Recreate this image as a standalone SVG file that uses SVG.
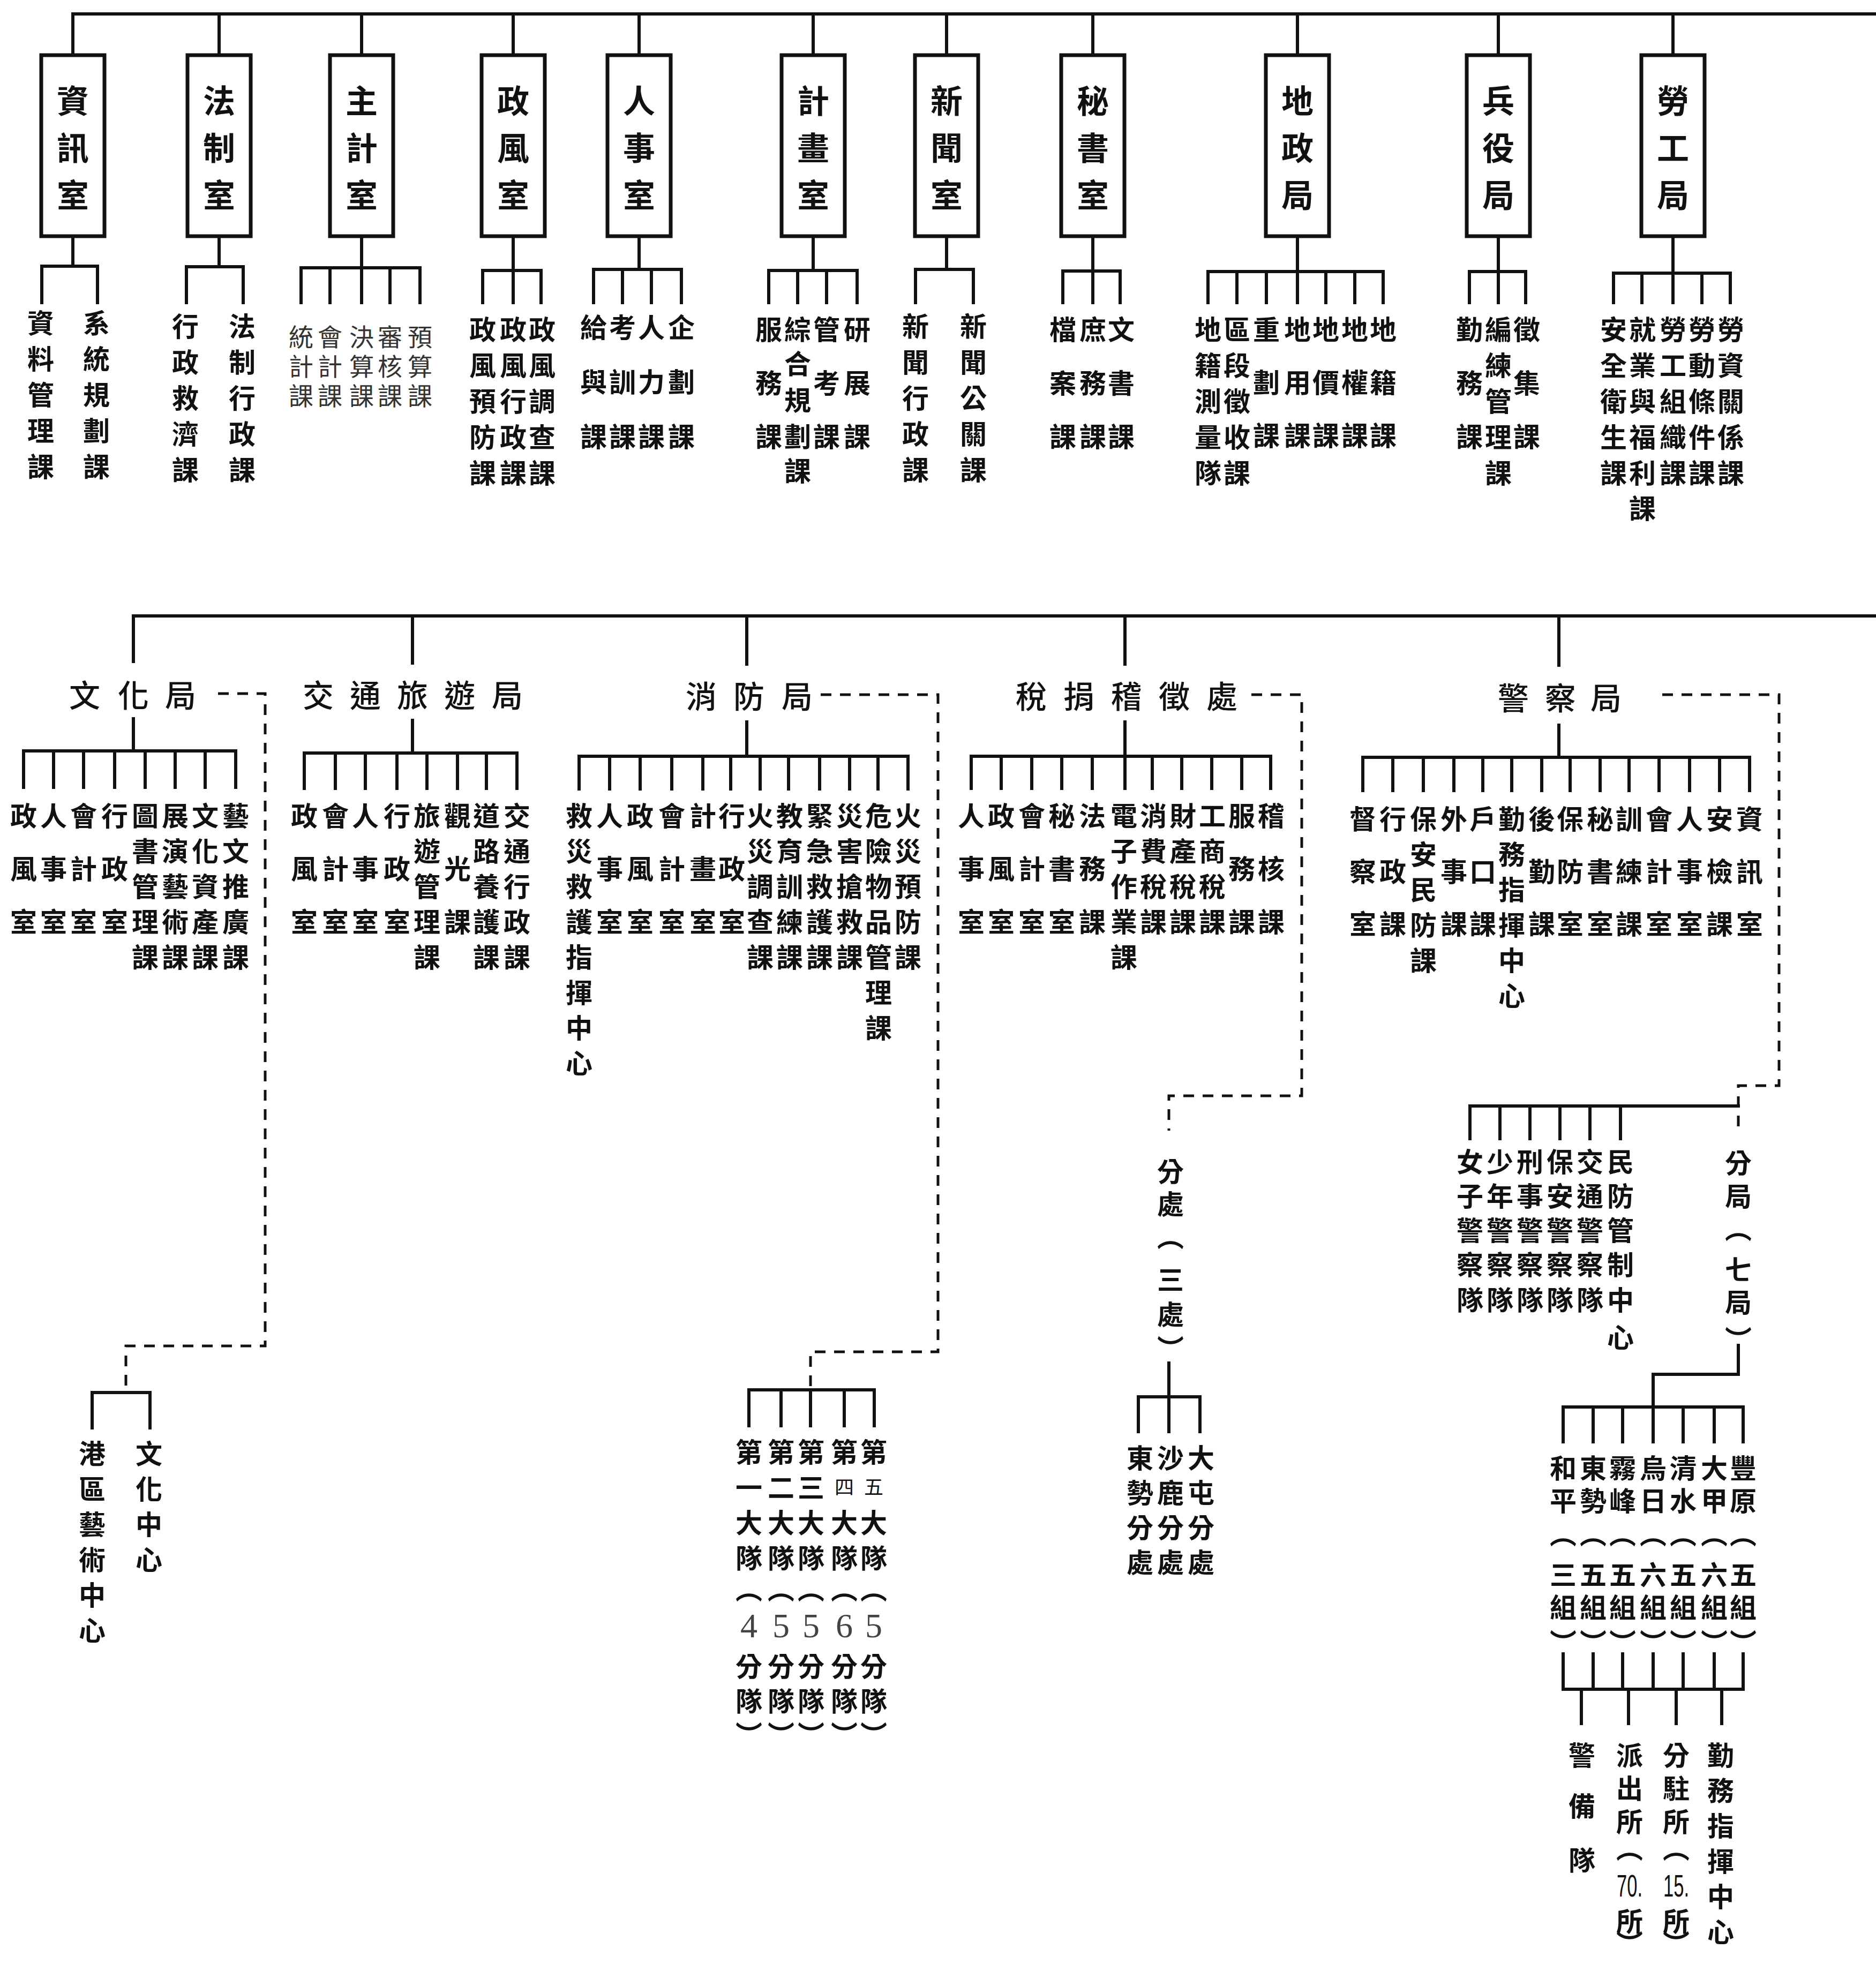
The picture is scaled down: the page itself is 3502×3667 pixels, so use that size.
<svg xmlns="http://www.w3.org/2000/svg" width="3502" height="3667" viewBox="0 0 3502 3667">
<style>
.ln{fill:none;stroke:#111;stroke-width:6;stroke-linecap:square}
.ds{fill:none;stroke:#111;stroke-width:5;stroke-dasharray:20 16}
.bx{fill:#fff;stroke:#111;stroke-width:7}
text{font-family:"Noto Sans CJK TC","Noto Sans CJK SC",sans-serif;text-anchor:middle;dominant-baseline:central;fill:#111}
.t{font-size:60px;font-weight:700}
.h{font-size:58px;font-weight:500}
.l{font-size:50px;font-weight:700}
.s{font-size:46px;font-weight:400;fill:#333}
.n{font-family:"Liberation Serif",serif;font-size:64px;font-weight:400;fill:#444}
.m{font-size:36px;font-weight:400}
.q{font-family:"Liberation Sans",sans-serif;font-size:58px;font-weight:400}
</style>
<rect width="3502" height="3667" fill="#fff"/>
<g id="connectors">
<path class="ln" d="M136 26H3502M249 1150H3502"/>
<path class="ln" d="M136 26V103M409 26V103M675 26V103M958 26V103M1193 26V103M1518 26V103M1767 26V103M2040 26V103M2422 26V103M2797 26V103M3123 26V103"/>
<path class="ln" d="M136 441V497M78 565V497H182V565"/>
<path class="ln" d="M409 441V498M348 565V498H454V565"/>
<path class="ln" d="M675 441V565M562 565V500H784V565M616 500V565M728 500V565"/>
<path class="ln" d="M958 441V565M901 565V505H1010V565"/>
<path class="ln" d="M1193 441V503M1108 565V503H1272V565M1162 503V565M1216 503V565"/>
<path class="ln" d="M1518 441V505M1435 565V505H1600V565M1489 505V565M1543 505V565"/>
<path class="ln" d="M1767 441V503M1709 565V503H1817V565"/>
<path class="ln" d="M2040 441V565M1984 565V506H2091V565"/>
<path class="ln" d="M2422 441V565M2255 565V507H2582V565M2309 507V565M2364 507V565M2475 507V565M2529 507V565"/>
<path class="ln" d="M2797 441V565M2743 565V507H2848V565"/>
<path class="ln" d="M3123 441V565M3012 565V510H3230V565M3065 510V565M3177 510V565"/>
<path class="ln" d="M249 1150V1235M770 1150V1238M1394 1150V1240M2100 1150V1240M2910 1150V1242"/>
<path class="ln" d="M249 1342V1402M44 1470V1402H440V1470M100 1402V1470M156 1402V1470M214 1402V1470M271 1402V1470M327 1402V1470M383 1402V1470"/>
<path class="ln" d="M770 1345V1406M568 1472V1406H965V1472M626 1406V1472M682 1406V1472M741 1406V1472M797 1406V1472M854 1406V1472M908 1406V1472"/>
<path class="ln" d="M1394 1348V1412M1081 1473V1412H1695V1473M1138 1412V1473M1195 1412V1473M1254 1412V1473M1312 1412V1473M1364 1412V1473M1419 1412V1473M1472 1412V1473M1530 1412V1473M1586 1412V1473M1639 1412V1473"/>
<path class="ln" d="M2100 1348V1472M1813 1472V1412H2372V1472M1869 1412V1472M1926 1412V1472M1982 1412V1472M2039 1412V1472M2151 1412V1472M2206 1412V1472M2262 1412V1472M2318 1412V1472"/>
<path class="ln" d="M2910 1354V1414M2544 1476V1414H3266V1476M2600 1414V1476M2657 1414V1476M2714 1414V1476M2768 1414V1476M2822 1414V1476M2878 1414V1476M2931 1414V1476M2987 1414V1476M3041 1414V1476M3097 1414V1476M3154 1414V1476M3210 1414V1476"/>
<path class="ds" d="M407 1295H495V2513H235V2600"/>
<path class="ds" d="M1532 1297H1751V2524H1513V2595"/>
<path class="ds" d="M2336 1297H2430V2046H2182V2111"/>
<path class="ds" d="M3103 1297H3321V2027H3245V2105"/>
<path class="ln" d="M172 2666V2600H280V2666"/>
<path class="ln" d="M1398 2662V2595H1632V2662M1458 2595V2662M1513 2595V2662M1576 2595V2662"/>
<path class="ln" d="M2182 2545V2673M2125 2673V2608H2240V2673"/>
<path class="ln" d="M2744 2126V2065H3245M2800 2065V2126M2856 2065V2126M2912 2065V2126M2968 2065V2126M3025 2065V2126"/>
<path class="ln" d="M3245 2512V2566H3086V2692M2918 2692V2627H3254V2692M2974 2627V2692M3029 2627V2692M3142 2627V2692M3200 2627V2692"/>
<path class="ln" d="M2918 3088V3154H3254V3088M2974 3088V3154M3029 3088V3154M3086 3088V3154M3142 3088V3154M3200 3088V3154M2952 3154V3218M3040 3154V3218M3129 3154V3218M3214 3154V3218"/>
</g>
<g id="n-zixun"><rect class="bx" x="77" y="103" width="118" height="338"/><text class="t" x="136 136 136" y="184 272 360">資訊室</text>
<text class="l" x="76 76 76 76 76" y="600 667 734 801 868">資料管理課</text>
<text class="l" x="180 180 180 180 180" y="600 667 734 801 868">系統規劃課</text></g>
<g id="n-fazhi"><rect class="bx" x="350" y="103" width="118" height="338"/><text class="t" x="409 409 409" y="184 272 360">法制室</text>
<text class="l" x="346 346 346 346 346" y="606 673 740 807 874">行政救濟課</text>
<text class="l" x="452 452 452 452 452" y="606 673 740 807 874">法制行政課</text></g>
<g id="n-zhuji"><rect class="bx" x="616" y="103" width="118" height="338"/><text class="t" x="675 675 675" y="184 272 360">主計室</text>
<text class="s" x="562 562 562" y="626 681 736">統計課</text>
<text class="s" x="616 616 616" y="626 681 736">會計課</text>
<text class="s" x="675 675 675" y="626 681 736">決算課</text>
<text class="s" x="728 728 728" y="626 681 736">審核課</text>
<text class="s" x="784 784 784" y="626 681 736">預算課</text></g>
<g id="n-zhengfeng"><rect class="bx" x="899" y="103" width="118" height="338"/><text class="t" x="958 958 958" y="184 272 360">政風室</text>
<text class="l" x="901 901 901 901 901" y="612 679 746 813 880">政風預防課</text>
<text class="l" x="958 958 958 958 958" y="612 679 746 813 880">政風行政課</text>
<text class="l" x="1012 1012 1012 1012 1012" y="612 679 746 813 880">政風調查課</text></g>
<g id="n-renshi"><rect class="bx" x="1134" y="103" width="118" height="338"/><text class="t" x="1193 1193 1193" y="184 272 360">人事室</text>
<text class="l" x="1108 1108 1108" y="608 710 812">給與課</text>
<text class="l" x="1162 1162 1162" y="608 710 812">考訓課</text>
<text class="l" x="1216 1216 1216" y="608 710 812">人力課</text>
<text class="l" x="1272 1272 1272" y="608 710 812">企劃課</text></g>
<g id="n-jihua"><rect class="bx" x="1459" y="103" width="118" height="338"/><text class="t" x="1518 1518 1518" y="184 272 360">計畫室</text>
<text class="l" x="1435 1435 1435" y="612 712 812">服務課</text>
<text class="l" x="1489 1489 1489 1489 1489" y="612 676 744 812 876">綜合規劃課</text>
<text class="l" x="1543 1543 1543" y="612 712 812">管考課</text>
<text class="l" x="1600 1600 1600" y="612 712 812">研展課</text></g>
<g id="n-xinwen"><rect class="bx" x="1708" y="103" width="118" height="338"/><text class="t" x="1767 1767 1767" y="184 272 360">新聞室</text>
<text class="l" x="1709 1709 1709 1709 1709" y="606 673 740 807 874">新聞行政課</text>
<text class="l" x="1817 1817 1817 1817 1817" y="606 673 740 807 874">新聞公關課</text></g>
<g id="n-mishu"><rect class="bx" x="1981" y="103" width="118" height="338"/><text class="t" x="2040 2040 2040" y="184 272 360">秘書室</text>
<text class="l" x="1984 1984 1984" y="612 712 812">檔案課</text>
<text class="l" x="2040 2040 2040" y="612 712 812">庶務課</text>
<text class="l" x="2093 2093 2093" y="612 712 812">文書課</text></g>
<g id="n-dizheng"><rect class="bx" x="2363" y="103" width="118" height="338"/><text class="t" x="2422 2422 2422" y="184 272 360">地政局</text>
<text class="l" x="2255 2255 2255 2255 2255" y="612 679 746 813 880">地籍測量隊</text>
<text class="l" x="2309 2309 2309 2309 2309" y="612 679 746 813 880">區段徵收課</text>
<text class="l" x="2364 2364 2364" y="612 711 810">重劃課</text>
<text class="l" x="2422 2422 2422" y="612 711 810">地用課</text>
<text class="l" x="2475 2475 2475" y="612 711 810">地價課</text>
<text class="l" x="2529 2529 2529" y="612 711 810">地權課</text>
<text class="l" x="2582 2582 2582" y="612 711 810">地籍課</text></g>
<g id="n-bingyi"><rect class="bx" x="2738" y="103" width="118" height="338"/><text class="t" x="2797 2797 2797" y="184 272 360">兵役局</text>
<text class="l" x="2743 2743 2743" y="612 712 812">勤務課</text>
<text class="l" x="2797 2797 2797 2797 2797" y="612 679 746 813 880">編練管理課</text>
<text class="l" x="2850 2850 2850" y="612 712 812">徵集課</text></g>
<g id="n-laogong"><rect class="bx" x="3064" y="103" width="118" height="338"/><text class="t" x="3123 3123 3123" y="184 272 360">勞工局</text>
<text class="l" x="3012 3012 3012 3012 3012" y="612 679 746 813 880">安全衛生課</text>
<text class="l" x="3066 3066 3066 3066 3066 3066" y="612 679 746 813 880 946">就業與福利課</text>
<text class="l" x="3123 3123 3123 3123 3123" y="612 679 746 813 880">勞工組織課</text>
<text class="l" x="3177 3177 3177 3177 3177" y="612 679 746 813 880">勞動條件課</text>
<text class="l" x="3231 3231 3231 3231 3231" y="612 679 746 813 880">勞資關係課</text></g>
<g id="n-wenhua"><text class="h" x="158 249 337" y="1295 1295 1295">文化局</text>
<text class="l" x="44 44 44" y="1520 1619 1718">政風室</text>
<text class="l" x="100 100 100" y="1520 1619 1718">人事室</text>
<text class="l" x="156 156 156" y="1520 1619 1718">會計室</text>
<text class="l" x="214 214 214" y="1520 1619 1718">行政室</text>
<text class="l" x="271 271 271 271 271" y="1520 1586 1652 1718 1784">圖書管理課</text>
<text class="l" x="327 327 327 327 327" y="1520 1586 1652 1718 1784">展演藝術課</text>
<text class="l" x="383 383 383 383 383" y="1520 1586 1652 1718 1784">文化資產課</text>
<text class="l" x="440 440 440 440 440" y="1520 1586 1652 1718 1784">藝文推廣課</text>
<text class="l" x="172 172 172 172 172 172" y="2711 2777 2843 2909 2975 3041">港區藝術中心</text>
<text class="l" x="278 278 278 278" y="2711 2777 2843 2909">文化中心</text></g>
<g id="n-jiaotong"><text class="h" x="594 682 770 858 947" y="1295 1295 1295 1295 1295">交通旅遊局</text>
<text class="l" x="568 568 568" y="1520 1619 1718">政風室</text>
<text class="l" x="626 626 626" y="1520 1619 1718">會計室</text>
<text class="l" x="682 682 682" y="1520 1619 1718">人事室</text>
<text class="l" x="741 741 741" y="1520 1619 1718">行政室</text>
<text class="l" x="797 797 797 797 797" y="1520 1586 1652 1718 1784">旅遊管理課</text>
<text class="l" x="854 854 854" y="1520 1619 1718">觀光課</text>
<text class="l" x="908 908 908 908 908" y="1520 1586 1652 1718 1784">道路養護課</text>
<text class="l" x="965 965 965 965 965" y="1520 1586 1652 1718 1784">交通行政課</text></g>
<g id="n-xiaofang"><text class="h" x="1309 1398 1488" y="1297 1297 1297">消防局</text>
<text class="l" x="1081 1081 1081 1081 1081 1081 1081 1081" y="1520 1586 1652 1718 1784 1850 1916 1982">救災救護指揮中心</text>
<text class="l" x="1138 1138 1138" y="1520 1619 1718">人事室</text>
<text class="l" x="1195 1195 1195" y="1520 1619 1718">政風室</text>
<text class="l" x="1254 1254 1254" y="1520 1619 1718">會計室</text>
<text class="l" x="1312 1312 1312" y="1520 1619 1718">計畫室</text>
<text class="l" x="1366 1366 1366" y="1520 1619 1718">行政室</text>
<text class="l" x="1419 1419 1419 1419 1419" y="1520 1586 1652 1718 1784">火災調查課</text>
<text class="l" x="1474 1474 1474 1474 1474" y="1520 1586 1652 1718 1784">教育訓練課</text>
<text class="l" x="1530 1530 1530 1530 1530" y="1520 1586 1652 1718 1784">緊急救護課</text>
<text class="l" x="1586 1586 1586 1586 1586" y="1520 1586 1652 1718 1784">災害搶救課</text>
<text class="l" x="1640 1640 1640 1640 1640 1640 1640" y="1520 1586 1652 1718 1784 1850 1916">危險物品管理課</text>
<text class="l" x="1695 1695 1695 1695 1695" y="1520 1586 1652 1718 1784">火災預防課</text>
<text class="l" x="1398 1398 1398 1398 1398 1398 1398 1398 1398" y="2708 2774 2840 2906 2964 3035 3108 3173 3236">第一大隊︵<tspan class="n">4</tspan>分隊︶</text>
<text class="l" x="1458 1458 1458 1458 1458 1458 1458 1458 1458" y="2708 2774 2840 2906 2964 3035 3108 3173 3236">第二大隊︵<tspan class="n">5</tspan>分隊︶</text>
<text class="l" x="1514 1514 1514 1514 1514 1514 1514 1514 1514" y="2708 2774 2840 2906 2964 3035 3108 3173 3236">第三大隊︵<tspan class="n">5</tspan>分隊︶</text>
<text class="l" x="1576 1576 1576 1576 1576 1576 1576 1576 1576" y="2708 2774 2840 2906 2964 3035 3108 3173 3236">第<tspan class="m">四</tspan>大隊︵<tspan class="n">6</tspan>分隊︶</text>
<text class="l" x="1631 1631 1631 1631 1631 1631 1631 1631 1631" y="2708 2774 2840 2906 2964 3035 3108 3173 3236">第<tspan class="m">五</tspan>大隊︵<tspan class="n">5</tspan>分隊︶</text></g>
<g id="n-shuijuan"><text class="h" x="1925 2014 2103 2192 2281" y="1297 1297 1297 1297 1297">稅捐稽徵處</text>
<text class="l" x="1813 1813 1813" y="1520 1619 1718">人事室</text>
<text class="l" x="1869 1869 1869" y="1520 1619 1718">政風室</text>
<text class="l" x="1926 1926 1926" y="1520 1619 1718">會計室</text>
<text class="l" x="1982 1982 1982" y="1520 1619 1718">秘書室</text>
<text class="l" x="2039 2039 2039" y="1520 1619 1718">法務課</text>
<text class="l" x="2098 2098 2098 2098 2098" y="1520 1586 1652 1718 1784">電子作業課</text>
<text class="l" x="2153 2153 2153 2153" y="1520 1586 1652 1718">消費稅課</text>
<text class="l" x="2208 2208 2208 2208" y="1520 1586 1652 1718">財產稅課</text>
<text class="l" x="2263 2263 2263 2263" y="1520 1586 1652 1718">工商稅課</text>
<text class="l" x="2318 2318 2318" y="1520 1619 1718">服務課</text>
<text class="l" x="2373 2373 2373" y="1520 1619 1718">稽核課</text>
<text class="l" x="2185 2185 2185 2185 2185 2185" y="2184 2245 2306 2386 2451 2515">分處︵三處︶</text>
<text class="l" x="2128 2128 2128 2128" y="2719 2784 2849 2914">東勢分處</text>
<text class="l" x="2185 2185 2185 2185" y="2719 2784 2849 2914">沙鹿分處</text>
<text class="l" x="2242 2242 2242 2242" y="2719 2784 2849 2914">大屯分處</text></g>
<g id="n-jingcha"><text class="h" x="2825 2913 2998" y="1300 1300 1300">警察局</text>
<text class="l" x="2544 2544 2544" y="1526 1624 1722">督察室</text>
<text class="l" x="2600 2600 2600" y="1526 1624 1722">行政課</text>
<text class="l" x="2657 2657 2657 2657 2657" y="1526 1592 1658 1724 1790">保安民防課</text>
<text class="l" x="2714 2714 2714" y="1526 1624 1722">外事課</text>
<text class="l" x="2768 2768 2768" y="1526 1624 1722">戶口課</text>
<text class="l" x="2822 2822 2822 2822 2822 2822" y="1526 1592 1658 1724 1790 1856">勤務指揮中心</text>
<text class="l" x="2878 2878 2878" y="1526 1624 1722">後勤課</text>
<text class="l" x="2931 2931 2931" y="1526 1624 1722">保防室</text>
<text class="l" x="2987 2987 2987" y="1526 1624 1722">秘書室</text>
<text class="l" x="3041 3041 3041" y="1526 1624 1722">訓練課</text>
<text class="l" x="3097 3097 3097" y="1526 1624 1722">會計室</text>
<text class="l" x="3154 3154 3154" y="1526 1624 1722">人事室</text>
<text class="l" x="3210 3210 3210" y="1526 1624 1722">安檢課</text>
<text class="l" x="3266 3266 3266" y="1526 1624 1722">資訊室</text>
<text class="l" x="2744 2744 2744 2744 2744" y="2166 2230 2294 2358 2424">女子警察隊</text>
<text class="l" x="2800 2800 2800 2800 2800" y="2166 2230 2294 2358 2424">少年警察隊</text>
<text class="l" x="2856 2856 2856 2856 2856" y="2166 2230 2294 2358 2424">刑事警察隊</text>
<text class="l" x="2912 2912 2912 2912 2912" y="2166 2230 2294 2358 2424">保安警察隊</text>
<text class="l" x="2968 2968 2968 2968 2968" y="2166 2230 2294 2358 2424">交通警察隊</text>
<text class="l" x="3025 3025 3025 3025 3025 3025" y="2166 2230 2294 2358 2424 2494">民防管制中心</text>
<text class="l" x="3245 3245 3245 3245 3245 3245" y="2168 2230 2291 2367 2428 2498">分局︵七局︶</text>
<text class="l" x="2918 2918 2918 2918 2918 2918" y="2738 2799 2861 2937 2998 3064">和平︵三組︶</text>
<text class="l" x="2974 2974 2974 2974 2974 2974" y="2738 2799 2861 2937 2998 3064">東勢︵五組︶</text>
<text class="l" x="3029 3029 3029 3029 3029 3029" y="2738 2799 2861 2937 2998 3064">霧峰︵五組︶</text>
<text class="l" x="3086 3086 3086 3086 3086 3086" y="2738 2799 2861 2937 2998 3064">烏日︵六組︶</text>
<text class="l" x="3142 3142 3142 3142 3142 3142" y="2738 2799 2861 2937 2998 3064">清水︵五組︶</text>
<text class="l" x="3200 3200 3200 3200 3200 3200" y="2738 2799 2861 2937 2998 3064">大甲︵六組︶</text>
<text class="l" x="3254 3254 3254 3254 3254 3254" y="2738 2799 2861 2937 2998 3064">豐原︵五組︶</text>
<text class="l" x="2953 2953 2953" y="3274 3369 3470">警備隊</text>
<text class="l" x="3042 3042 3042 3042" y="3274 3336 3398 3448">派出所︵<tspan class="q" x="3042" y="3520" textLength="48" lengthAdjust="spacingAndGlyphs">70.</tspan><tspan x="3042 3042" y="3584 3626">所︶</tspan></text>
<text class="l" x="3129 3129 3129 3129" y="3274 3336 3398 3448">分駐所︵<tspan class="q" x="3129" y="3520" textLength="48" lengthAdjust="spacingAndGlyphs">15.</tspan><tspan x="3129 3129" y="3584 3626">所︶</tspan></text>
<text class="l" x="3212 3212 3212 3212 3212 3212" y="3274 3340 3406 3472 3538 3604">勤務指揮中心</text></g>
</svg>
